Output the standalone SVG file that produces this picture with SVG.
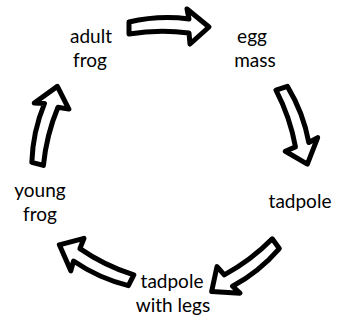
<svg xmlns="http://www.w3.org/2000/svg" width="337" height="320" viewBox="0 0 337 320">
<style>
.lbl{font-family:Lato,"Liberation Sans",sans-serif;font-size:19px;fill:#000;text-anchor:middle}
.arr{fill:#fff;stroke:#000;stroke-width:5;stroke-linejoin:round}
</style>
<defs>
<path id="a" d="M-40,-5 Q-10,-12 20,-8 L18,-18 L40,0 L21,17 L20,6 Q-10,2 -40,7 Z"/>
</defs>
<rect width="337" height="320" fill="#fff"/>
<g id="connectors" class="arr">
<use href="#a" transform="translate(169,27)"/>
<use href="#a" transform="translate(295,126) rotate(72)"/>
<use href="#a" transform="translate(244,268) rotate(144)"/>
<use href="#a" transform="translate(95,263) rotate(207)"/>
<use href="#a" transform="translate(47,125) rotate(-75)"/>
</g>
<g id="adult-frog"><text class="lbl" x="91" y="43">adult</text><text class="lbl" x="90" y="67">frog</text></g>
<g id="egg-mass"><text class="lbl" x="252" y="43">egg</text><text class="lbl" x="255" y="67">mass</text></g>
<g id="tadpole"><text class="lbl" x="300" y="208">tadpole</text></g>
<g id="tadpole-with-legs"><text class="lbl" x="172" y="288">tadpole</text><text class="lbl" x="173" y="312">with legs</text></g>
<g id="young-frog"><text class="lbl" x="40" y="197">young</text><text class="lbl" x="40" y="221">frog</text></g>
</svg>
